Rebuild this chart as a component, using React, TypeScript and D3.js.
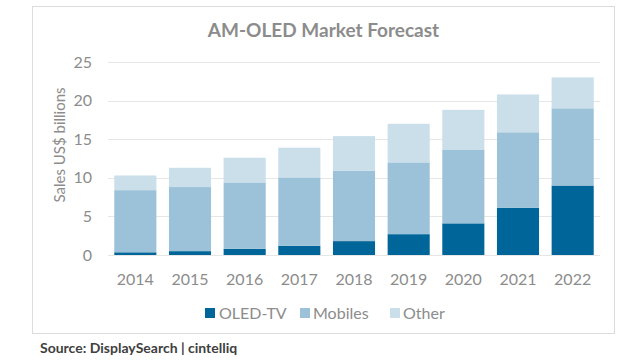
import React from "react";
import * as d3 from "d3";

const years = ["2014", "2015", "2016", "2017", "2018", "2019", "2020", "2021", "2022"];
const oledTv = [0.35, 0.5, 0.8, 1.2, 1.8, 2.7, 4.1, 6.1, 9.0];
const mobiles = [8.05, 8.3, 8.6, 8.85, 9.1, 9.3, 9.5, 9.8, 10.0];
const other = [1.9, 2.5, 3.2, 3.85, 4.5, 5.0, 5.2, 4.9, 4.0];
const seriesNames = ["OLED-TV", "Mobiles", "Other"];
const yTicks = [0, 5, 10, 15, 20, 25];

const colors = ["#006699", "#9bc2d8", "#cbdfeb"];
const FONT = "Lato, 'Open Sans', sans-serif";
const GRAY = "#8c8c8c";

export default function App() {
  const W = 640, H = 360;
  const x = d3.scaleBand<string>().domain(years).range([108, 600]).paddingInner(0.23).paddingOuter(0.115);
  const y = d3.scaleLinear().domain([0, 25]).range([255, 62]);

  const table = years.map((yr, i) => ({ year: yr, "OLED-TV": oledTv[i], Mobiles: mobiles[i], Other: other[i] }));
  const stacked = d3.stack<any>().keys(seriesNames)(table);

  const legendItems = [
    { name: seriesNames[0], sx: 205, tx: 219 },
    { name: seriesNames[1], sx: 300, tx: 313 },
    { name: seriesNames[2], sx: 390, tx: 403 },
  ];

  return (
    <svg width={W} height={H} style={{ position: "absolute", left: 0, top: 0, background: "#fff" }} fontFamily={FONT}>
      <rect x={0} y={0} width={W} height={H} fill="#fff" />
      <rect x={32.5} y={6.5} width={582} height={327} fill="#fff" stroke="#dcdcdc" strokeWidth={1} />
      <text x={323.5} y={37} textAnchor="middle" fontSize={19} fontWeight="bold" fill={GRAY}>
        AM-OLED Market Forecast
      </text>
      {yTicks.map((t) => (
        <g key={t}>
          <line x1={108} x2={600} y1={Math.round(y(t)) + 0.5} y2={Math.round(y(t)) + 0.5} stroke="#e6e6e6" strokeWidth={1} />
          <text x={92} y={y(t)} dy="0.35em" textAnchor="end" fontSize={16} fill={GRAY}>
            {t}
          </text>
        </g>
      ))}
      <text
        transform={`translate(65,145) rotate(-90)`}
        textAnchor="middle"
        fontSize={15}
        fill={GRAY}
      >
        Sales US$ billions
      </text>
      {stacked.map((s, si) => (
        <g key={s.key} fill={colors[si]}>
          {s.map((d, i) => (
            <rect
              key={i}
              x={x(years[i])}
              width={x.bandwidth()}
              y={y(d[1])}
              height={y(d[0]) - y(d[1])}
            />
          ))}
        </g>
      ))}
      {years.map((yr) => (
        <text key={yr} x={(x(yr) as number) + x.bandwidth() / 2} y={279} dy="0.35em" textAnchor="middle" fontSize={16} fill={GRAY}>
          {yr}
        </text>
      ))}
      {legendItems.map((l, i) => (
        <g key={l.name}>
          <rect x={l.sx} y={308} width={10} height={10} fill={colors[i]} />
          <text x={l.tx} y={313} dy="0.35em" fontSize={16} fill={GRAY}>
            {l.name}
          </text>
        </g>
      ))}
      <text x={40} y={353} fontSize={14} fontWeight="bold" fill="#404040">
        Source: DisplaySearch | cintelliq
      </text>
    </svg>
  );
}
